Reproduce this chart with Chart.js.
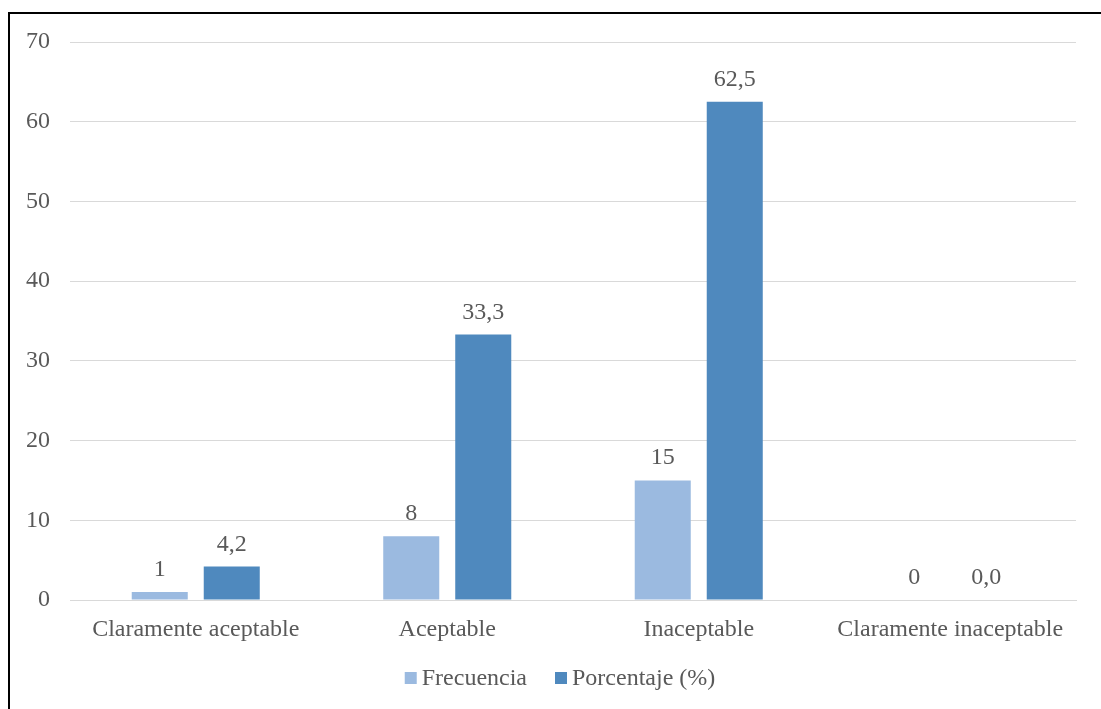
<!DOCTYPE html>
<html>
<head>
<meta charset="utf-8">
<script src="https://cdn.jsdelivr.net/npm/chart.js@4.4.1/dist/chart.umd.min.js"></script>
<style>
  html, body { margin: 0; padding: 0; background: #ffffff; }
  #wrap { position: relative; width: 1101px; height: 709px; }
</style>
</head>
<body>
<div id="wrap"><canvas id="chart" width="1101" height="709"></canvas></div>
<script>
// Categorías de la valoración
const categories = ['Claramente aceptable', 'Aceptable', 'Inaceptable', 'Claramente inaceptable'];
// Series
const frecuencia = [1, 8, 15, 0];
const porcentaje = [4.2, 33.3, 62.5, 0.0];
const seriesNames = ['Frecuencia', 'Porcentaje (%)'];
// Eje vertical
const yMin = 0, yMax = 70, yStep = 10;

const FONT = '"Liberation Serif", "Times New Roman", serif';
const FS = 24;
const TEXT = '#595959';
const GRID = '#D9D9D9';

// Marco negro alrededor del gráfico
const framePlugin = {
  id: 'frame',
  beforeDraw(chart) {
    const ctx = chart.ctx;
    ctx.save();
    ctx.fillStyle = '#ffffff';
    ctx.fillRect(0, 0, chart.width, chart.height);
    ctx.fillStyle = '#000000';
    ctx.fillRect(8, 12, 2, chart.height - 12);
    ctx.fillRect(8, 12, chart.width - 8, 2);
    ctx.restore();
  }
};

// Etiquetas de valor sobre cada barra
const valueLabels = {
  id: 'valueLabels',
  afterDatasetsDraw(chart) {
    const ctx = chart.ctx;
    ctx.save();
    ctx.font = FS + 'px ' + FONT;
    ctx.fillStyle = TEXT;
    ctx.textAlign = 'center';
    ctx.textBaseline = 'alphabetic';
    chart.data.datasets.forEach((ds, di) => {
      const meta = chart.getDatasetMeta(di);
      meta.data.forEach((bar, i) => {
        const v = ds.data[i];
        const txt = di === 0 ? String(v) : v.toFixed(1).replace('.', ',');
        ctx.fillText(txt, bar.x, bar.y - 16);
      });
    });
    ctx.restore();
  }
};

// Leyenda inferior compacta (cuadro + texto muy juntos)
const bottomLegend = {
  id: 'bottomLegend',
  afterDraw(chart) {
    const ctx = chart.ctx;
    const box = 12, gap = 5, spacing = 28;
    ctx.save();
    ctx.font = FS + 'px ' + FONT;
    const items = chart.data.datasets.map(ds => ({
      text: ds.label, color: ds.backgroundColor, w: ctx.measureText(ds.label).width
    }));
    const total = items.reduce((s, it) => s + box + gap + it.w, 0) + spacing * (items.length - 1);
    let x = 560 - total / 2;
    const cy = 679;
    ctx.textBaseline = 'middle';
    ctx.textAlign = 'left';
    items.forEach(it => {
      ctx.fillStyle = it.color;
      ctx.fillRect(x, cy - box / 2 - 1, box, box);
      ctx.fillStyle = TEXT;
      ctx.fillText(it.text, x + box + gap, cy);
      x += box + gap + it.w + spacing;
    });
    ctx.restore();
  }
};

new Chart(document.getElementById('chart'), {
  type: 'bar',
  data: {
    labels: categories,
    datasets: [
      { label: seriesNames[0], data: frecuencia, backgroundColor: '#9BBAE0',
        categoryPercentage: 0.5726, barPercentage: 0.778 },
      { label: seriesNames[1], data: porcentaje, backgroundColor: '#4F89BE',
        categoryPercentage: 0.5726, barPercentage: 0.778 }
    ]
  },
  options: {
    responsive: false,
    animation: false,
    devicePixelRatio: 1,
    layout: { padding: { left: 0, right: 25, top: 42, bottom: 64 } },
    plugins: {
      legend: { display: false },
      tooltip: { enabled: false }
    },
    scales: {
      x: {
        grid: { display: false, drawTicks: false },
        border: { display: true, color: GRID, width: 1 },
        ticks: { font: { family: FONT, size: FS }, color: TEXT, padding: 15, maxRotation: 0, autoSkip: false },
        afterFit(scale) { scale.height = 45; }
      },
      y: {
        min: yMin, max: yMax,
        grid: { color: GRID, lineWidth: 1, drawTicks: false },
        border: { display: false },
        ticks: { stepSize: yStep, font: { family: FONT, size: FS }, color: TEXT, padding: 20 },
        afterFit(scale) { scale.width = 70; }
      }
    }
  },
  plugins: [framePlugin, valueLabels, bottomLegend]
});
</script>
</body>
</html>
